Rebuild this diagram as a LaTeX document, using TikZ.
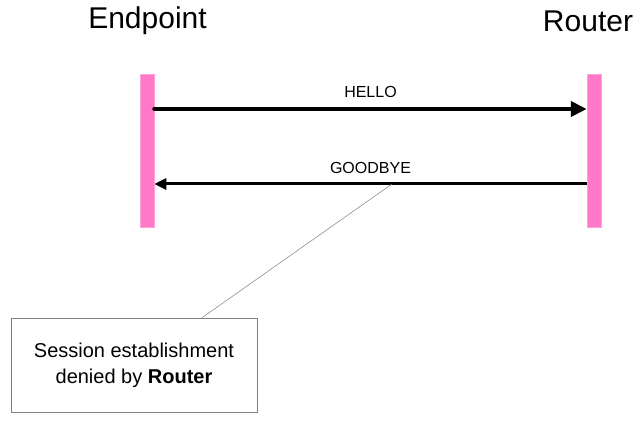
\documentclass[tikz,border=0pt]{standalone}
\usepackage{fontspec}
\setmainfont{Liberation Sans}
\usetikzlibrary{arrows.meta}

\definecolor{barpink}{RGB}{255,121,200}

\begin{document}
\begin{tikzpicture}[x=1pt, y=-1pt,
  lifeline/.style={rectangle, fill=barpink, draw=barpink!70!white, line width=0.5pt, minimum width=14pt, minimum height=153pt, inner sep=0pt},
  title/.style={font=\fontsize{30}{34}\selectfont},
  msg/.style={font=\fontsize{16}{19}\selectfont},
  note/.style={draw=gray, line width=0.6pt, minimum width=246pt, minimum height=94pt, align=center, font=\fontsize{20}{26}\selectfont}]
\useasboundingbox (0,0) rectangle (643,422);
\node[title] (endpoint) at (147.5,21) {Endpoint};
\node[title] (router) at (588,21) {Router};
\node[lifeline] (epbar) at (147,150.5) {};
\node[lifeline] (rtbar) at (594,150.5) {};
% messages
\coordinate (hello1) at (epbar.east |- 0,109);
\coordinate (hello2) at (rtbar.west |- 0,109);
\coordinate (bye1) at (rtbar.west |- 0,184);
\coordinate (bye2) at (epbar.east |- 0,184);
\draw[line width=4pt, line cap=round, -{Triangle[length=16pt, width=15pt]}] (hello1) -- (hello2) node[msg, midway, above=6pt] {HELLO};
\draw[line width=3pt, -{Triangle[length=12pt, width=11pt]}] (bye1) -- (bye2) node[msg, midway, above=6pt] (goodbye) {GOODBYE};
% callout
\coordinate (byept) at (392,184);
\node[note] (denied) at (134,365) {Session establishment\\denied by \textbf{Router}};
\draw[gray, line width=0.5pt] ([xshift=68pt]denied.north) -- (byept);
\end{tikzpicture}
\end{document}
